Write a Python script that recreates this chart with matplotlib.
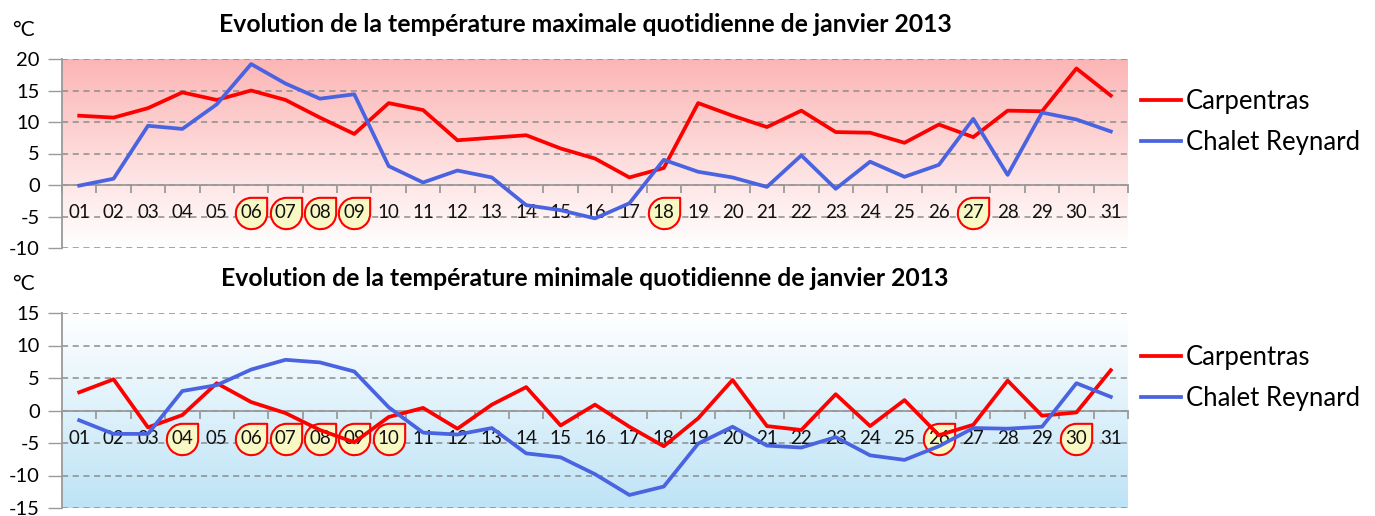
import numpy as np
import matplotlib
matplotlib.use("Agg")
import matplotlib.pyplot as plt
from matplotlib.path import Path
from matplotlib.transforms import offset_copy
from matplotlib.colors import LinearSegmentedColormap

days = [f"{d:02d}" for d in range(1, 32)]

tmax_carpentras = [11.0, 10.7, 12.2, 14.7, 13.5, 15.0, 13.5, 10.7, 8.1, 13.0, 11.9, 7.1, 7.5, 7.9, 5.8,
                   4.2, 1.2, 2.7, 13.0, 11.0, 9.2, 11.8, 8.4, 8.3, 6.7, 9.6, 7.6, 11.8, 11.7, 18.5, 14.2]
tmax_chalet = [-0.1, 1.0, 9.4, 8.9, 12.8, 19.2, 16.1, 13.7, 14.4, 3.0, 0.4, 2.3, 1.2, -3.2, -4.0,
               -5.3, -2.9, 4.0, 2.1, 1.2, -0.3, 4.7, -0.6, 3.7, 1.3, 3.2, 10.5, 1.6, 11.5, 10.4, 8.5]

tmin_carpentras = [2.8, 4.8, -2.6, -0.7, 4.2, 1.3, -0.4, -3.0, -4.9, -1.0, 0.4, -2.8, 0.9, 3.6, -2.3,
                   0.9, -2.5, -5.5, -1.2, 4.7, -2.4, -3.0, 2.5, -2.4, 1.6, -3.8, -2.2, 4.6, -0.8, -0.3, 6.2]
tmin_chalet = [-1.5, -3.6, -3.6, 3.0, 3.9, 6.3, 7.8, 7.4, 6.0, 0.5, -3.4, -3.7, -2.7, -6.6, -7.2,
               -9.8, -13.0, -11.7, -5.1, -2.5, -5.4, -5.7, -4.1, -6.9, -7.6, -5.5, -2.7, -2.8, -2.5, 4.2, 2.1]

highlight_max = ["06", "07", "08", "09", "18", "27"]
highlight_min = ["04", "06", "07", "08", "09", "10", "26", "30"]

title_max = "Evolution de la température maximale quotidienne de janvier 2013"
title_min = "Evolution de la température minimale quotidienne de janvier 2013"
series_names = ["Carpentras", "Chalet Reynard"]

RED = "#ff0000"
BLUE = "#4a63e0"
FONT = "Lato"

W, H = 1375, 516
fig = plt.figure(figsize=(W / 100, H / 100), dpi=100)

# teardrop marker: circle with square top-right corner
arc = Path.arc(90, 360)
verts = list(arc.vertices) + [(1, 1), (0, 1)]
codes = list(arc.codes) + [Path.LINETO, Path.CLOSEPOLY]
tear = Path(verts, codes)


def make_ax(top_px, bot_px, ylim, yticks, bgcolors, title, s1, s2, highlights):
    left, right = 62, 1128
    ax = fig.add_axes([left / W, 1 - bot_px / H, (right - left) / W, (bot_px - top_px) / H])
    x = np.arange(len(days))
    cmap = LinearSegmentedColormap.from_list("bg", bgcolors)
    grad = np.linspace(1, 0, 256).reshape(-1, 1)
    ax.imshow(grad, cmap=cmap, aspect="auto", extent=[0, 1, 0, 1],
              transform=ax.transAxes, zorder=0)
    ax.set_xlim(-0.5, len(days) - 0.5)
    ax.set_ylim(*ylim)
    ax.set_yticks(yticks)
    ax.set_yticklabels([str(v) for v in yticks], fontsize=14.5, family=FONT)
    ax.grid(axis="y", color="#8c8c8c", linestyle=(0, (4, 3)), linewidth=1.1, zorder=1)
    for s in ["top", "right"]:
        ax.spines[s].set_visible(False)
    ax.spines["left"].set_color("#9a9a9a")
    ax.spines["left"].set_linewidth(1.3)
    ax.spines["bottom"].set_position(("data", 0))
    ax.spines["bottom"].set_color("#9a9a9a")
    ax.spines["bottom"].set_linewidth(1.3)
    ax.tick_params(axis="y", which="major", direction="out", length=10,
                   color="#9a9a9a", width=1.0, pad=6)
    ax.set_xticks(np.arange(len(days) + 1) - 0.5)
    ax.set_xticklabels([])
    ax.tick_params(axis="x", which="major", direction="out", length=6, color="#9a9a9a", width=1.3)
    ax.set_xticks(x, minor=True)
    ax.set_xticklabels([], minor=True)
    ax.tick_params(axis="x", which="minor", length=0)

    # category labels below axis
    tr = offset_copy(ax.transData, fig=fig, y=-28, units="dots")
    hx = [days.index(h) for h in highlights]
    ax.plot(hx, [0] * len(hx), linestyle="none", marker=tear, markersize=23,
            markerfacecolor="#f8f8c4", markeredgecolor=RED, markeredgewidth=1.5,
            transform=tr, zorder=3, clip_on=False)
    for i, d in enumerate(days):
        ax.text(i, 0, d, transform=tr, ha="center", va="center", fontsize=13.5,
                family=FONT, color="#111111", zorder=4, clip_on=False)

    l1, = ax.plot(x, s1, color=RED, linewidth=2.7, zorder=5, solid_joinstyle="round")
    l2, = ax.plot(x, s2, color=BLUE, linewidth=2.7, zorder=5, solid_joinstyle="round")
    ax.legend([l1, l2], series_names, loc="center left", bbox_to_anchor=(1.0, 0.667),
              frameon=False, prop={"family": FONT, "size": 18.5}, handlelength=1.55,
              handletextpad=0.2, labelspacing=0.62, borderaxespad=0.1)
    fig.text(585 / W, 1 - (top_px - 35) / H, title, ha="center", va="center",
             fontsize=17.8, fontweight="bold", family=FONT)
    fig.text(12 / W, 1 - (top_px - 29) / H, "°C", ha="left", va="center",
             fontsize=15, family=FONT)
    return ax


make_ax(59, 248, (-10, 20), [-10, -5, 0, 5, 10, 15, 20], ["#ffffff", "#fcb5b5"],
        title_max, tmax_carpentras, tmax_chalet, highlight_max)
make_ax(313, 508, (-15, 15), [-15, -10, -5, 0, 5, 10, 15], ["#bde3f6", "#ffffff"],
        title_min, tmin_carpentras, tmin_chalet, highlight_min)

fig.savefig("out.png", dpi=100)
